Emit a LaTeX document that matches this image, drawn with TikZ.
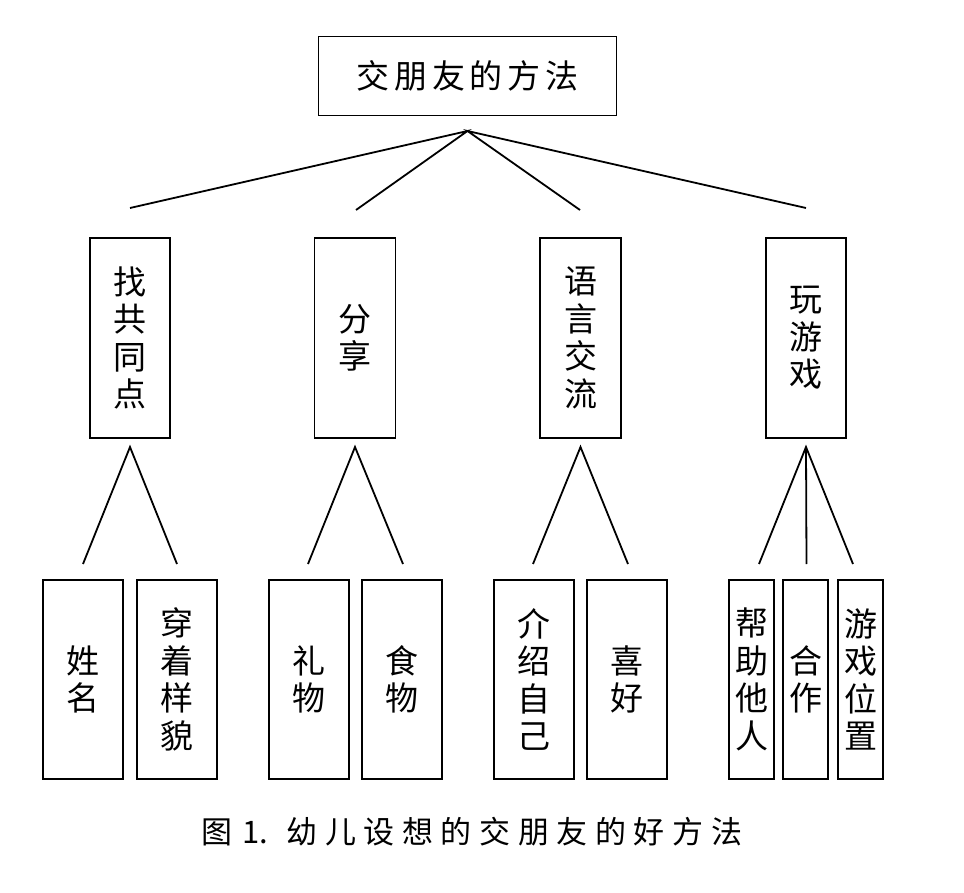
\documentclass[tikz,border=0pt]{standalone}
\usepackage{fontspec}
\newfontfamily\cjk{Noto Sans CJK SC}
\newcommand\cgap{\hspace{4.7pt}}
\newcommand\capgap{\hspace{7.6pt}}
\tikzset{
  box/.style={draw=black, line width=1.8pt, rectangle, inner sep=0pt, align=center,
    font=\cjk\fontsize{33}{37.5}\selectfont},
  link/.style={draw=black, line width=1.8pt},
}
\begin{document}
\begin{tikzpicture}[x=1pt,y=-1pt]
\useasboundingbox[fill=white] (0,0) rectangle (964,893);
% top
\node[box, minimum width=298pt, minimum height=79pt] (top) at (467.5,76) {交\cgap 朋\cgap 友\cgap 的\cgap 方\cgap 法};
% middle
\node[box, minimum width=80pt, minimum height=200pt] (m1) at (130,338) {找\\共\\同\\点};
\node[box, minimum width=81pt, minimum height=200pt] (m2) at (355,338) {分\\享};
\node[box, minimum width=81pt, minimum height=200pt] (m3) at (580.5,338) {语\\言\\交\\流};
\node[box, minimum width=80pt, minimum height=200pt] (m4) at (806,338) {玩\\游\\戏};
% bottom
\node[box, minimum width=80pt, minimum height=199pt] (b11) at (83,679.5) {姓\\名};
\node[box, minimum width=80pt, minimum height=199pt] (b12) at (177,679.5) {穿\\着\\样\\貌};
\node[box, minimum width=80pt, minimum height=199pt] (b21) at (309,679.5) {礼\\物};
\node[box, minimum width=80pt, minimum height=199pt] (b22) at (402,679.5) {食\\物};
\node[box, minimum width=80pt, minimum height=199pt] (b31) at (534,679.5) {介\\绍\\自\\己};
\node[box, minimum width=80pt, minimum height=199pt] (b32) at (627,679.5) {喜\\好};
\node[box, minimum width=45pt, minimum height=199pt] (b41) at (751.5,679.5) {帮\\助\\他\\人};
\node[box, minimum width=45pt, minimum height=199pt] (b42) at (805.5,679.5) {合\\作};
\node[box, minimum width=45pt, minimum height=199pt] (b43) at (860.5,679.5) {游\\戏\\位\\置};
% connector coordinates
\coordinate (ta) at (467.5,131);
\coordinate (t1) at (130,208);
\coordinate (t2) at (356,210);
\coordinate (t3) at (580,210);
\coordinate (t4) at (806,208);
\draw[link] (t1) -- (ta) -- (t2);
\draw[link] (t3) -- (ta) -- (t4);
\coordinate (a1) at (130,447);
\coordinate (a1l) at (83,564);
\coordinate (a1r) at (177,564);
\draw[link] (a1l) -- (a1) -- (a1r);
\coordinate (a2) at (355,447);
\coordinate (a2l) at (308,564);
\coordinate (a2r) at (403,564);
\draw[link] (a2l) -- (a2) -- (a2r);
\coordinate (a3) at (580.5,447);
\coordinate (a3l) at (533,564);
\coordinate (a3r) at (628,564);
\draw[link] (a3l) -- (a3) -- (a3r);
\coordinate (a4) at (806,447);
\coordinate (a4l) at (759,564);
\coordinate (a4m) at (806.5,564);
\coordinate (a4r) at (853,564);
\draw[link] (a4l) -- (a4) -- (a4r);
\draw[link] (a4) -- (a4m);
% caption
\node[inner sep=0pt, font=\cjk\fontsize{31}{36}\selectfont] (cap) at (472,832) {图\hspace{10pt}1.\hspace{18pt}幼\capgap 儿\capgap 设\capgap 想\capgap 的\capgap 交\capgap 朋\capgap 友\capgap 的\capgap 好\capgap 方\capgap 法};
\end{tikzpicture}
\end{document}
